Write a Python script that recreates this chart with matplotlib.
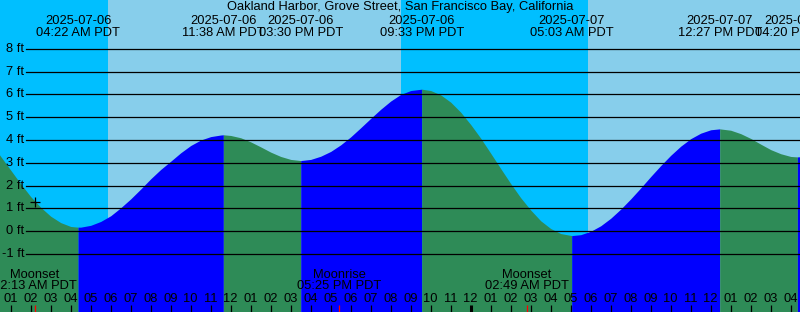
import matplotlib
matplotlib.use("Agg")
import matplotlib.pyplot as plt
import numpy as np

plt.rcParams['font.family'] = ['Liberation Sans', 'DejaVu Sans']
plt.rcParams['font.size'] = 9.3

title = "Oakland Harbor, Grove Street, San Francisco Bay, California"

# tide level (ft); hours counted from 2025-07-06 00:00 PDT
hours = [0.0, 0.5, 1.0, 1.5, 2.0, 2.5, 3.0, 3.5, 4.0, 4.367,
         4.5, 5.0, 5.5, 6.0, 6.5, 7.0, 7.5, 8.0, 8.5, 9.0, 9.5, 10.0, 10.5, 11.0, 11.5, 11.633,
         12.0, 12.5, 13.0, 13.5, 14.0, 14.5, 15.0, 15.5,
         16.0, 16.5, 17.0, 17.5, 18.0, 18.5, 19.0, 19.5, 20.0, 20.5, 21.0, 21.55,
         22.0, 22.5, 23.0, 23.5, 24.0, 24.5, 25.0, 25.5, 26.0, 26.5, 27.0, 27.5, 28.0, 28.5, 29.05,
         29.5, 30.0, 30.5, 31.0, 31.5, 32.0, 32.5, 33.0, 33.5, 34.0, 34.5, 35.0, 35.5, 36.0, 36.45,
         37.0, 37.5, 38.0, 38.5, 39.0, 39.5, 40.0, 40.333,
         40.5, 41.0]
heights = [3.88, 3.28, 2.68, 2.08, 1.52, 1.05, 0.66, 0.38, 0.21, 0.18,
           0.18, 0.26, 0.43, 0.68, 1.03, 1.42, 1.85, 2.30, 2.71, 3.07, 3.44, 3.76, 4.00, 4.15, 4.22, 4.23,
           4.20, 4.10, 3.92, 3.70, 3.47, 3.28, 3.15, 3.10,
           3.15, 3.29, 3.50, 3.79, 4.14, 4.54, 4.95, 5.35, 5.71, 6.00, 6.17, 6.23,
           6.17, 5.98, 5.66, 5.22, 4.68, 4.08, 3.42, 2.75, 2.09, 1.47, 0.93, 0.46, 0.12, -0.10, -0.19,
           -0.15, 0.00, 0.24, 0.57, 0.97, 1.42, 1.90, 2.40, 2.88, 3.33, 3.73, 4.06, 4.30, 4.45, 4.49,
           4.43, 4.28, 4.07, 3.82, 3.58, 3.40, 3.28, 3.26,
           3.27, 3.34]

# highs and lows
ext_hours = [4.367, 11.633, 15.5, 21.55, 29.05, 36.45, 40.333]
ext_dates = ["2025-07-06", "2025-07-06", "2025-07-06", "2025-07-06",
             "2025-07-07", "2025-07-07", "2025-07-07"]
ext_times = ["04:22 AM PDT", "11:38 AM PDT", "03:30 PM PDT", "09:33 PM PDT",
             "05:03 AM PDT", "12:27 PM PDT", "04:20 PM PDT"]

# daylight
sun_events = [5.85, 20.515, 29.85]   # sunrise, sunset, sunrise

# moon
moon_hours = [2.217, 17.417, 26.817]
moon_names = ["Moonset", "Moonrise", "Moonset"]
moon_times = ["02:13 AM PDT", "05:25 PM PDT", "02:49 AM PDT"]

mark_hour, mark_level = 2.2, 1.27
ft_levels = list(range(-1, 9))
hour_ticks = list(range(1, 41))

W, H = 800, 312
x0, x1 = 0.465, 40.465
y0, y1 = -3.54, 10.14

fig = plt.figure(figsize=(W / 100, H / 100), dpi=100)
ax = fig.add_axes([0, 0, 1, 1])
ax.set_xlim(x0, x1)
ax.set_ylim(y0, y1)
ax.axis("off")

def fy(px):
    return 1 - px / H

# sky
night, day = "#00BFFF", "#87CEEB"
edges = [x0 - 1] + sun_events + [x1 + 1]
for i in range(len(edges) - 1):
    ax.axvspan(edges[i], edges[i + 1], color=night if i % 2 == 0 else day, lw=0, zorder=0)

# water, blue while rising and green while falling
t = np.array(hours)
h = np.array(heights)
bounds = [hours[0]] + ext_hours + [hours[-1]]
for a, b in zip(bounds[:-1], bounds[1:]):
    m = (t >= a) & (t <= b)
    rising = h[m][-1] > h[m][0]
    ax.fill_between(t[m], y0, h[m], color="#0000FF" if rising else "#2E8B57",
                    lw=0, antialiased=True, zorder=1)

# level lines and labels
for lv in ft_levels:
    ax.axhline(lv, xmin=26 / W, xmax=1, color="black", lw=0.9, zorder=3)
    ax.text(24.5 / W, lv, f"{lv} ft", transform=ax.get_yaxis_transform(),
            ha="right", va="center", zorder=4)

ax.plot([mark_hour], [mark_level], marker="+", ms=7, mew=0.9, color="black", zorder=4)

xt = ax.get_xaxis_transform()
ax.text(0.5, fy(10), title, transform=ax.transAxes, ha="center", va="baseline", zorder=4)
for th, d, tm in zip(ext_hours, ext_dates, ext_times):
    ax.text(th, fy(24.3), d, transform=xt, ha="center", va="baseline", zorder=4)
    ax.text(th, fy(35.7), tm, transform=xt, ha="center", va="baseline", zorder=4)

# hour ticks along the bottom
for hr in hour_ticks:
    lab = f"{(hr - 1) % 12 + 1:02d}"
    ax.text(hr, fy(301.7), lab, transform=xt, ha="center", va="baseline", zorder=4)
    ax.plot([hr, hr], [fy(305), 0], transform=xt, color="black",
            lw=2.2 if hr % 24 == 0 else 0.9, zorder=4, solid_capstyle="butt")

for mh, name, tm in zip(moon_hours, moon_names, moon_times):
    ax.text(mh, fy(278.3), name, transform=xt, ha="center", va="baseline", zorder=4)
    ax.text(mh, fy(289.3), tm, transform=xt, ha="center", va="baseline", zorder=4)
    ax.plot([mh, mh], [fy(305), 0], transform=xt, color="red", lw=0.9, zorder=5,
            solid_capstyle="butt")

fig.savefig("out.png", dpi=100)
